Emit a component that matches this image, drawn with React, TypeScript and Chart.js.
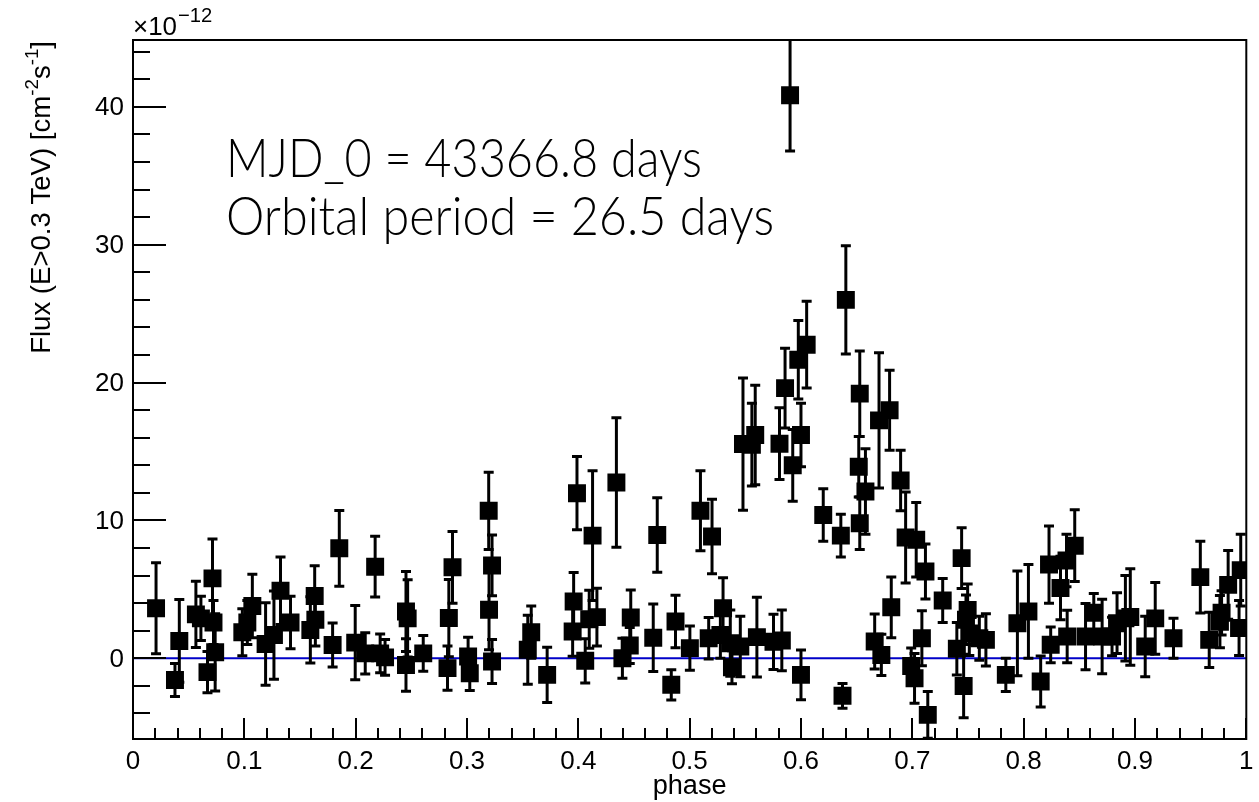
import React, { useEffect, useRef } from "react";
import { Chart, registerables } from "chart.js";

Chart.register(...registerables);

// ---------------- data ----------------
const phases = [
  0.0207, 0.0377, 0.0416, 0.0565, 0.061, 0.0669, 0.0714, 0.0723, 0.0738,
  0.0982, 0.1027, 0.1072, 0.1191, 0.1266, 0.1325, 0.1415, 0.1593, 0.1632,
  0.1638, 0.1793, 0.1853, 0.1996, 0.2086, 0.2175, 0.222, 0.2264, 0.2452,
  0.2467, 0.2452, 0.2607, 0.2825, 0.2837, 0.287, 0.301, 0.3025, 0.3195,
  0.3198, 0.3225, 0.3225, 0.3546, 0.3577, 0.372, 0.3949, 0.3958, 0.3988,
  0.4062, 0.4098, 0.4128, 0.4167, 0.4342, 0.4396, 0.4462, 0.4471, 0.4673,
  0.4709, 0.4835, 0.4873, 0.5002, 0.5097, 0.5171, 0.5201, 0.5276, 0.53,
  0.5365, 0.538, 0.5455, 0.5479, 0.5559, 0.5589, 0.5604, 0.5753, 0.5807,
  0.5828, 0.5857, 0.5902, 0.5926, 0.5976, 0.6, 0.6, 0.6051, 0.62, 0.6358,
  0.6373, 0.6403, 0.6519, 0.6528, 0.6528, 0.6579, 0.6662, 0.6701, 0.6722,
  0.6796, 0.6811, 0.6895, 0.694, 0.699, 0.702, 0.7035, 0.7086, 0.7118,
  0.7139, 0.7273, 0.74, 0.7443, 0.7461, 0.7482, 0.7497, 0.7512, 0.7602,
  0.7661, 0.784, 0.7944, 0.8043, 0.8153, 0.8228, 0.8243, 0.8331, 0.8385,
  0.8391, 0.8459, 0.8556, 0.863, 0.8705, 0.8794, 0.8839, 0.8914, 0.8958,
  0.9092, 0.9182, 0.9346, 0.9587, 0.9667, 0.9763, 0.9778, 0.9837, 0.9935,
  0.995,
];

const fluxes = [
  3.63, -1.57, 1.26, 3.19, 2.9, -1.0, 5.8, 2.6, 0.44,
  1.89, 2.6, 3.8, 1.04, 1.69, 4.9, 2.6, 2.06, 4.52,
  2.8, 0.97, 7.98, 1.14, 0.36, 6.65, 0.36, 0.07, 3.4,
  2.9, -0.48, 0.36, -0.71, 2.92, 6.6, 0.13, -1.08, 10.7,
  3.52, 6.74, -0.23, 0.62, 1.9, -1.2, 1.95, 4.12, 11.98,
  -0.18, 2.84, 8.9, 2.99, 12.76, 0.0, 0.93, 2.96, 1.5,
  8.94, -1.92, 2.67, 0.74, 10.7, 1.46, 8.84, 1.7, 3.64,
  1.1, -0.65, 0.86, 15.54, 15.5, 16.2, 1.54, 1.2, 15.57,
  1.3, 19.6, 40.85, 14.0, 21.66, 16.2, -1.2, 22.75, 10.4, 8.9,
  -2.72, 26.0, 13.9, 19.2, 9.8, 12.1, 1.22, 17.26, 0.25,
  18.0, 3.7, 12.9, 8.77, -0.55, -1.45, 8.6, 1.46, 6.3,
  -4.1, 4.2, 0.7, 7.27, -2.0, 2.8, 3.5, 1.8, 1.46,
  1.34, -1.2, 2.54, 3.4, -1.68, 6.8, 0.98, 5.1, 7.1,
  1.58, 8.17, 1.58, 3.3, 1.58, 1.58, 2.55, 2.9, 3.0,
  0.86, 2.9, 1.46, 5.89, 1.34, 2.66, 3.3, 5.33, 2.2,
  6.4,
];

const fluxErrors = [
  3.3, 1.2, 3.0, 2.4, 1.6, 1.5, 2.85, 1.6, 2.8,
  1.7, 1.6, 2.3, 3.0, 3.2, 2.45, 1.9, 2.4, 2.2,
  1.9, 1.6, 2.75, 2.7, 1.5, 2.2, 1.4, 1.3, 2.9,
  2.8, 1.9, 1.3, 1.6, 2.8, 2.6, 1.4, 1.26, 2.8,
  2.9, 2.2, 1.6, 2.5, 1.9, 2.0, 1.8, 2.1, 2.66,
  1.6, 2.1, 4.7, 2.1, 4.7, 1.45, 1.3, 2.0, 2.45,
  2.7, 1.1, 1.9, 1.6, 2.9, 1.5, 2.7, 1.7, 2.2,
  2.4, 1.2, 2.2, 4.8, 3.0, 3.6, 2.9, 2.0, 2.6,
  2.2, 2.9, 4.05, 2.6, 2.85, 2.3, 1.8, 3.15, 1.9, 1.55,
  0.9, 3.93, 2.2, 3.1, 1.9, 3.1, 2.0, 4.9, 1.5,
  2.9, 2.2, 2.2, 3.3, 1.3, 1.8, 2.7, 2.0, 2.0,
  1.7, 1.6, 1.9, 2.2, 2.3, 1.8, 1.9, 1.6, 1.6,
  1.9, 1.2, 3.8, 3.4, 1.85, 2.8, 1.3, 2.3, 1.9,
  1.9, 2.6, 2.4, 1.4, 2.7, 1.4, 2.2, 3.1, 3.5,
  2.2, 2.6, 1.45, 2.6, 2.0, 1.9, 1.6, 2.5, 2.0,
  2.6,
];

const xTickValues = [0, 0.1, 0.2, 0.3, 0.4, 0.5, 0.6, 0.7, 0.8, 0.9, 1];
const xTickLabels = ["0", "0.1", "0.2", "0.3", "0.4", "0.5", "0.6", "0.7", "0.8", "0.9", "1"];
const yTickValues = [0, 10, 20, 30, 40];
const yTickLabels = ["0", "10", "20", "30", "40"];

const xTitle = "phase";
const yTitleParts: [string, boolean][] = [
  ["Flux (E>0.3 TeV) [cm", false],
  ["-2", true],
  ["s", false],
  ["-1", true],
  ["]", false],
];
const exponentBase = "\u00d710";
const exponentPower = "\u221212";
const annotationLines = ["MJD_0 = 43366.8 days", "Orbital period = 26.5 days"];

const X_MIN = 0;
const X_MAX = 1;
const Y_MIN = -5.85;
const Y_MAX = 44.85;

// ---------------- plugins ----------------
const SANS = "'Liberation Sans', Arial, Helvetica, sans-serif";

const errorBarPlugin = {
  id: "errorBars",
  beforeDatasetsDraw(chart: any) {
    const { ctx, chartArea, scales } = chart;
    const xs = scales.x;
    const ys = scales.y;
    ctx.save();
    ctx.beginPath();
    ctx.rect(chartArea.left, chartArea.top, chartArea.right - chartArea.left, chartArea.bottom - chartArea.top);
    ctx.clip();

    // zero reference line
    ctx.strokeStyle = "#0000c8";
    ctx.lineWidth = 2;
    const y0 = ys.getPixelForValue(0);
    ctx.beginPath();
    ctx.moveTo(xs.getPixelForValue(X_MIN), y0);
    ctx.lineTo(xs.getPixelForValue(X_MAX), y0);
    ctx.stroke();

    ctx.strokeStyle = "#000";
    ctx.lineWidth = 3;
    ctx.lineCap = "butt";
    for (let i = 0; i < phases.length; i++) {
      const px = xs.getPixelForValue(phases[i]);
      const top = ys.getPixelForValue(fluxes[i] + fluxErrors[i]);
      const bot = ys.getPixelForValue(fluxes[i] - fluxErrors[i]);
      ctx.beginPath();
      ctx.moveTo(px, top);
      ctx.lineTo(px, bot);
      ctx.moveTo(px - 5, top);
      ctx.lineTo(px + 5, top);
      ctx.moveTo(px - 5, bot);
      ctx.lineTo(px + 5, bot);
      ctx.stroke();
    }
    ctx.restore();
  },
};

const axesPlugin = {
  id: "rootAxes",
  afterDraw(chart: any) {
    const { ctx, chartArea, scales } = chart;
    const xs = scales.x;
    const ys = scales.y;
    const { left, right, top, bottom } = chartArea;
    ctx.save();
    ctx.strokeStyle = "#000";
    ctx.fillStyle = "#000";
    ctx.lineWidth = 2;

    // frame
    ctx.strokeRect(left, top, right - left, bottom - top);

    // ticks (inward)
    ctx.beginPath();
    for (let i = 0; i <= 50; i++) {
      const v = i * 0.02;
      const px = Math.round(xs.getPixelForValue(v));
      const major = i % 5 === 0;
      ctx.moveTo(px, bottom);
      ctx.lineTo(px, bottom - (major ? 21 : 11));
    }
    for (let v = -4; v <= 44; v += 2) {
      const py = Math.round(ys.getPixelForValue(v));
      const major = v % 10 === 0;
      ctx.moveTo(left, py);
      ctx.lineTo(left + (major ? 33 : 17), py);
    }
    ctx.stroke();

    // tick labels
    ctx.font = `26px ${SANS}`;
    ctx.textAlign = "center";
    ctx.textBaseline = "alphabetic";
    xTickValues.forEach((v, i) => {
      ctx.fillText(xTickLabels[i], xs.getPixelForValue(v), bottom + 30);
    });
    ctx.textAlign = "right";
    ctx.textBaseline = "middle";
    yTickValues.forEach((v, i) => {
      ctx.fillText(yTickLabels[i], left - 9, ys.getPixelForValue(v) + 1);
    });

    // x title: fit to ~74px width
    ctx.textBaseline = "alphabetic";
    ctx.font = `25px ${SANS}`;
    const wPhase = ctx.measureText(xTitle).width;
    const fx = Math.min(30, 25 * 74 / wPhase);
    ctx.font = `${fx}px ${SANS}`;
    ctx.textAlign = "center";
    ctx.fillText(xTitle, xs.getPixelForValue(0.5), bottom + 55);

    // y title (rotated, right-aligned to top of frame), fit to ~313px
    ctx.textAlign = "left";
    const measureTitle = (b: number) => {
      let t = 0;
      for (const [s, isSup] of yTitleParts) {
        ctx.font = `${isSup ? b * 0.68 : b}px ${SANS}`;
        t += ctx.measureText(s).width;
      }
      return t;
    };
    const base = 25 * 313 / measureTitle(25);
    const total = measureTitle(base);
    ctx.save();
    ctx.translate(50, top + 1);
    ctx.rotate(-Math.PI / 2);
    let u = -total;
    for (const [s, isSup] of yTitleParts) {
      ctx.font = `${isSup ? base * 0.68 : base}px ${SANS}`;
      ctx.fillText(s, u, isSup ? -base * 0.45 : 0);
      u += ctx.measureText(s).width;
    }
    ctx.restore();

    // exponent label
    ctx.font = `20px ${SANS}`;
    const wb0 = ctx.measureText(exponentBase).width;
    const fe = 20 * 44 / wb0;
    ctx.font = `${fe}px ${SANS}`;
    ctx.textAlign = "left";
    ctx.fillText(exponentBase, left, 35);
    const wb = ctx.measureText(exponentBase).width;
    ctx.font = `${fe * 0.78}px ${SANS}`;
    ctx.fillText(exponentPower, left + wb + 1, 22);

    // annotation text (each line fitted to its width in the reference)
    const fam = "Lato, 'Open Sans', 'Noto Sans', sans-serif";
    ctx.font = `300 54px ${fam}`;
    const targets = [476, 548];
    const baselines = [177, 235];
    annotationLines.forEach((line, i) => {
      const w = ctx.measureText(line).width;
      ctx.save();
      ctx.translate(226, baselines[i]);
      ctx.scale(targets[i] / w, 1);
      ctx.fillText(line, 0, 0);
      ctx.restore();
    });

    ctx.restore();
  },
};

export default function App() {
  const canvasRef = useRef<HTMLCanvasElement | null>(null);

  useEffect(() => {
    document.body.style.margin = "0";
    const canvas = canvasRef.current;
    if (!canvas) return;
    const points = phases.map((p, i) => ({ x: p, y: fluxes[i] }));
    const chart = new Chart(canvas, {
      type: "scatter",
      data: {
        datasets: [
          {
            data: points,
            pointStyle: "rect",
            pointRadius: 12.7,
            pointHoverRadius: 12.7,
            backgroundColor: "#000",
            borderColor: "#000",
            borderWidth: 0,
          },
        ],
      },
      options: {
        responsive: false,
        animation: false,
        devicePixelRatio: 1,
        events: [],
        layout: { padding: { left: 133, right: 7, top: 40, bottom: 63 } },
        plugins: {
          legend: { display: false },
          tooltip: { enabled: false },
        },
        scales: {
          x: { type: "linear", min: X_MIN, max: X_MAX, display: false },
          y: { type: "linear", min: Y_MIN, max: Y_MAX, display: false },
        },
      },
      plugins: [errorBarPlugin, axesPlugin],
    });
    return () => chart.destroy();
  }, []);

  return (
    <div style={{ width: 1259, height: 802, background: "#fff" }}>
      <canvas ref={canvasRef} width={1259} height={802} style={{ display: "block" }} />
    </div>
  );
}
